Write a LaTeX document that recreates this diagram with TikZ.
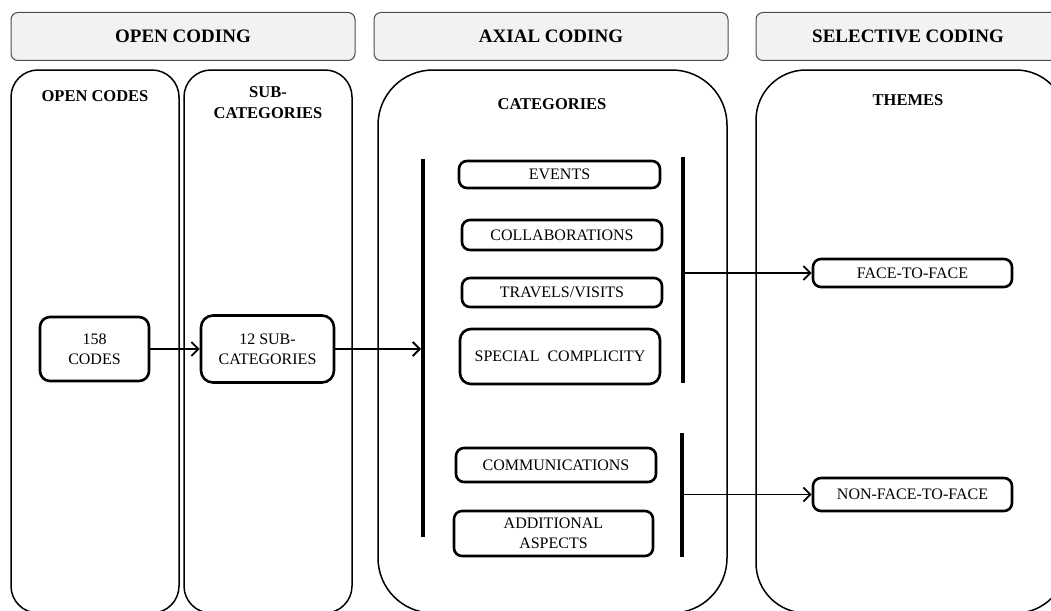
\documentclass[tikz,border=0pt]{standalone}
\usepackage{fontspec}
\setmainfont{Liberation Serif}
\usetikzlibrary{graphs}
\usetikzlibrary{arrows.meta}

\begin{document}
\begin{tikzpicture}[x=1pt, y=-1pt,
    >={Straight Barb[length=7pt, width=14pt]},
    header/.style={draw=black!70, fill=black!5, line width=1pt, rounded corners=7pt,
        minimum height=48pt, font=\fontsize{19}{22}\selectfont\bfseries},
    column/.style={draw, line width=1.5pt},
    title/.style={align=center, font=\fontsize{16.5}{21}\selectfont\bfseries},
    item/.style={draw, line width=2.6pt, rounded corners=8pt, align=center, inner sep=0pt,
        font=\fontsize{16}{20}\selectfont},
    bar/.style={line width=4pt},
    link/.style={->, line width=1.8pt}]
            \useasboundingbox (0, 0) rectangle (1051, 610);

            \node[header, minimum width=344pt] (opencoding) at (183, 36.5) {OPEN CODING};
            \node[header, minimum width=354pt] (axialcoding) at (551, 36.5) {AXIAL CODING};
            \node[header, minimum width=304pt] (selectivecoding) at (908, 36.5) {SELECTIVE CODING};

            \draw[column, rounded corners=27pt] (11, 70) rectangle (179, 613);
            \draw[column, rounded corners=27pt] (184, 70) rectangle (352, 613);
            \draw[column, rounded corners=55pt] (378, 70) rectangle (727, 613);
            \draw[column, rounded corners=50pt] (756, 70) rectangle (1066, 613);

            \node[title] (opencodes) at (95, 96) {OPEN CODES};
            \node[title] (subcategories) at (268, 103) {SUB-\\CATEGORIES};
            \node[title] (categories) at (552, 104) {CATEGORIES};
            \node[title] (themes) at (908, 100) {THEMES};

            \node[item, minimum width=109pt, minimum height=64pt, rounded corners=10pt] (codes) at (94.5, 349) {158\\CODES};
            \node[item, minimum width=133pt, minimum height=67pt, rounded corners=12pt] (subcats) at (267.5, 349) {12 SUB-\\CATEGORIES};
            \node[item, minimum width=201pt, minimum height=27pt] (events) at (559.5, 174.5) {EVENTS};
            \node[item, minimum width=200pt, minimum height=30pt] (collaborations) at (562, 235) {COLLABORATIONS};
            \node[item, minimum width=200pt, minimum height=29pt] (travels) at (562, 292.5) {TRAVELS/VISITS};
            \node[item, minimum width=200pt, minimum height=55pt, rounded corners=11pt] (special) at (560, 356.5) {SPECIAL\enspace COMPLICITY};
            \node[item, minimum width=200pt, minimum height=34pt] (communications) at (556, 465) {COMMUNICATIONS};
            \node[item, minimum width=199pt, minimum height=45pt] (additional) at (553.5, 533.5) {ADDITIONAL\\ASPECTS};
            \node[item, minimum width=199pt, minimum height=28pt] (facetoface) at (912.5, 273) {FACE-TO-FACE};
            \node[item, minimum width=199pt, minimum height=33pt] (nonfacetoface) at (912.5, 494.5) {NON-FACE-TO-FACE};

            \coordinate (b1_top) at (423, 159);
            \coordinate (b1_bot) at (423, 537);
            \coordinate (b2_top) at (683, 157);
            \coordinate (b2_bot) at (683, 383);
            \coordinate (b3_top) at (682, 433);
            \coordinate (b3_bot) at (682, 557);
            \coordinate (b1_in) at (421, 349);
            \coordinate (b2_out) at (683, 273);
            \coordinate (b3_out) at (682, 494.5);

            \draw[bar] (b1_top) -- (b1_bot);
            \draw[bar] (b2_top) -- (b2_bot);
            \draw[bar] (b3_top) -- (b3_bot);

            \graph {(codes) ->[link] (subcats)};
            \draw[link] (subcats) -- (b1_in);
            \draw[link] (b2_out) -- (facetoface);
            \draw[link] (b3_out) -- (nonfacetoface);
\end{tikzpicture}
\end{document}
